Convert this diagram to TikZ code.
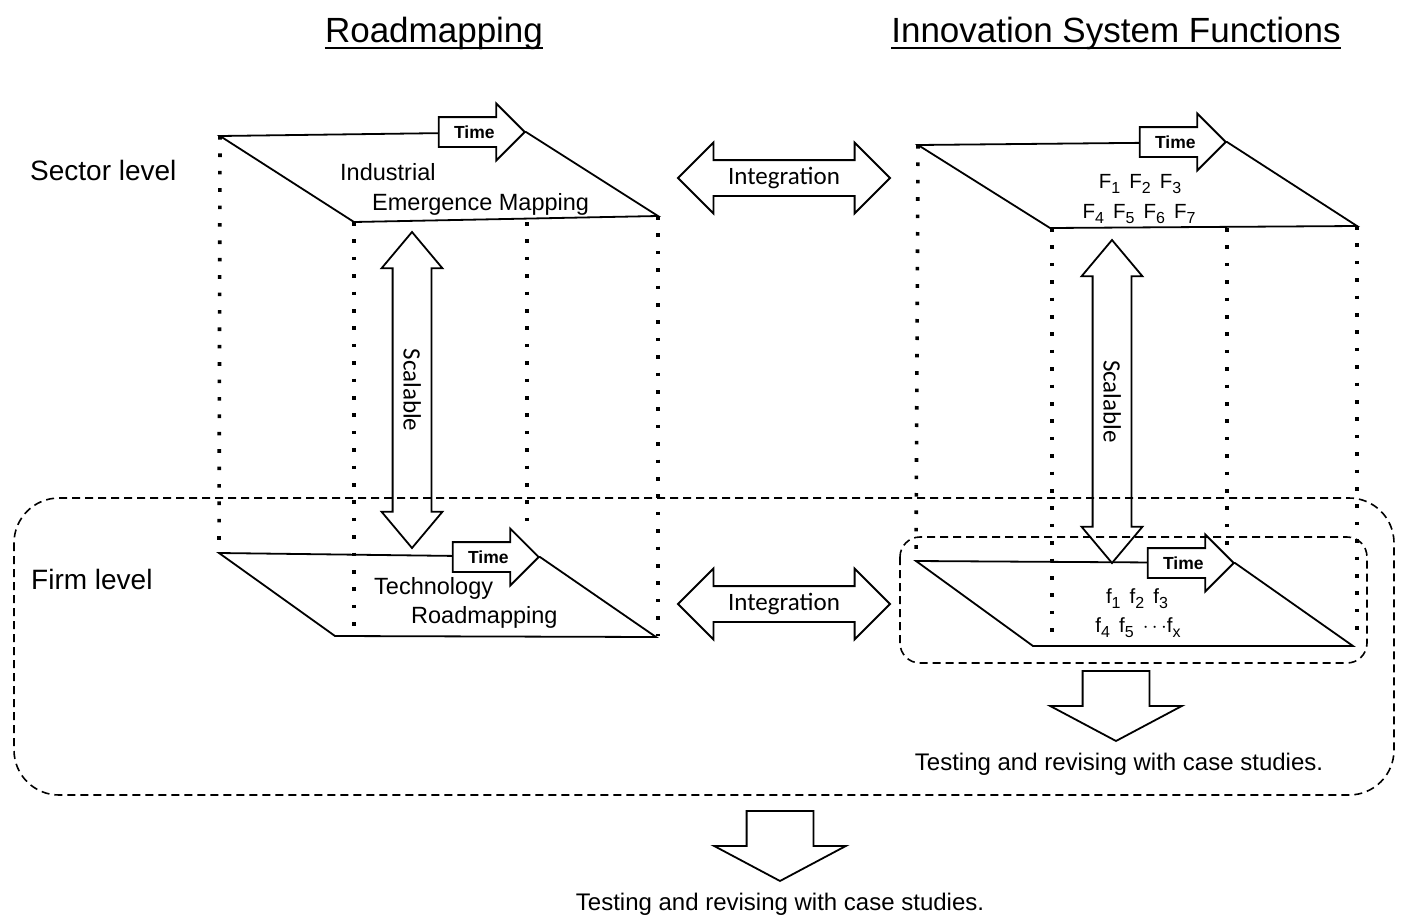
\documentclass[tikz,border=0pt]{standalone}
\usepackage{fontspec}
\setmainfont{Liberation Sans}
\newfontfamily\calfont{Carlito}
\usetikzlibrary{shapes.arrows,calc}

\tikzset{
  plane/.style={draw,line width=1.8pt,line join=miter},
  dotline/.style={line width=3.6pt,dash pattern=on 3.6pt off 13.8pt},
  boundary/.style={line width=1.6pt,dash pattern=on 8pt off 5pt},
  timearrow/.style={single arrow,draw,fill=white,line width=1.8pt,minimum height=86pt,
    text height=12.5pt,text depth=0pt,inner ysep=7.75pt,inner xsep=3pt,
    single arrow head extend=13.5pt,anchor=tip,font=\bfseries\fontsize{17.5}{17.5}\selectfont},
  integarrow/.style={double arrow,draw,fill=white,line width=1.8pt,minimum height=212pt,
    text height=17pt,text depth=5pt,inner ysep=6pt,inner xsep=2pt,
    double arrow head extend=17.5pt,font=\calfont\fontsize{25}{25}\selectfont},
  scalarrow/.style={double arrow,draw,fill=white,line width=1.8pt,rotate=-90,
    text height=17pt,text depth=0pt,inner ysep=10pt,inner xsep=2pt,
    double arrow head extend=11pt,double arrow tip angle=80,font=\calfont\fontsize{25}{25}\selectfont},
  downarrow/.style={single arrow,draw,fill=white,line width=1.8pt,rotate=-90,minimum height=70pt,
    text height=0pt,text depth=0pt,inner ysep=32.5pt,inner xsep=0pt,
    single arrow head extend=32.5pt,single arrow tip angle=124,anchor=tip},
  title/.style={inner sep=0pt,anchor=base,font=\fontsize{35}{35}\selectfont},
  level/.style={inner sep=0pt,anchor=base west,font=\fontsize{28}{28}\selectfont},
  planetext/.style={inner sep=0pt,anchor=base west,font=\fontsize{23.5}{23.5}\selectfont},
  fn/.style={inner sep=0pt,anchor=base,font=\fontsize{20.5}{20.5}\selectfont},
  result/.style={inner sep=0pt,anchor=base,font=\fontsize{24}{24}\selectfont}
}
\newcommand{\lowidx}[1]{\raisebox{-5pt}{\fontsize{16}{16}\selectfont #1}}

\begin{document}
\begin{tikzpicture}[x=1pt,y=-1pt]
\useasboundingbox (0,0) rectangle (1401,916);

% titles
\node[title] (rm-title) at (434,42) {Roadmapping};
\node[title] (isf-title) at (1116,42) {Innovation System Functions};
\draw[line width=2.2pt] ([yshift=-6pt]rm-title.base west) -- ([yshift=-6pt]rm-title.base east);
\draw[line width=2.2pt] ([yshift=-6pt]isf-title.base west) -- ([yshift=-6pt]isf-title.base east);

\node[level] (sector) at (30,180) {Sector level};
\node[level] (firm) at (31,589) {Firm level};

% plane corners
\coordinate (iem-nw) at (220,136);
\coordinate (iem-ne) at (526,132);
\coordinate (iem-se) at (658,216);
\coordinate (iem-sw) at (354,222);
\coordinate (trm-nw) at (219,553);
\coordinate (trm-ne) at (540,557);
\coordinate (trm-se) at (656,637);
\coordinate (trm-sw) at (335,636);
\coordinate (isf-nw) at (918,145);
\coordinate (isf-ne) at (1227,142);
\coordinate (isf-se) at (1357,226);
\coordinate (isf-sw) at (1050,228);
\coordinate (fsf-nw) at (916,561);
\coordinate (fsf-ne) at (1235,563);
\coordinate (fsf-se) at (1353,646);
\coordinate (fsf-sw) at (1033,646);

% dotted uprights
\draw[dotline] (iem-nw) -- (trm-nw);
\draw[dotline] (iem-sw) -- (354,636);
\draw[dotline] (527,222) -- (527,535);
\draw[dotline] (iem-se) -- (658,636);
\draw[dotline] (isf-nw) -- (fsf-nw);
\draw[dotline] (1052,228) -- (1052,640);
\draw[dotline] (1227,228) -- (1227,545);
\draw[dotline] (isf-se) -- (1357,640);

% planes
\draw[plane] (iem-nw) -- (iem-ne) -- (iem-se) -- (iem-sw) -- cycle;
\draw[plane] (trm-nw) -- (trm-ne) -- (trm-se) -- (trm-sw) -- cycle;
\draw[plane] (isf-nw) -- (isf-ne) -- (isf-se) -- (isf-sw) -- cycle;
\draw[plane] (fsf-nw) -- (fsf-ne) -- (fsf-se) -- (fsf-sw) -- cycle;

\node[timearrow] (time-iem) at (iem-ne) {Time};
\node[timearrow] (time-trm) at (trm-ne) {Time};
\node[timearrow] (time-isf) at (isf-ne) {Time};
\node[timearrow] (time-fsf) at (fsf-ne) {Time};

% plane texts
\node[planetext] (iem-l1) at (340,180) {Industrial};
\node[planetext] (iem-l2) at (372,210) {Emergence Mapping};
\node[planetext] (trm-l1) at (374,594) {Technology};
\node[planetext] (trm-l2) at (411,623) {Roadmapping};
\node[fn] (isf-l1) at (1140,188) {F\lowidx{1}\, F\lowidx{2}\, F\lowidx{3}};
\node[fn] (isf-l2) at (1139,218) {F\lowidx{4}\, F\lowidx{5}\, F\lowidx{6}\, F\lowidx{7}};
\node[fn] (fsf-l1) at (1137,603) {f\lowidx{1}\, f\lowidx{2}\, f\lowidx{3}};
\node[fn] (fsf-l2) at (1138,632) {f\lowidx{4}\, f\lowidx{5}\, $\cdots$f\lowidx{x}};

% block arrows
\node[integarrow] (integ-sector) at (784,178) {Integration};
\node[integarrow] (integ-firm) at (784,604) {Integration};
\node[scalarrow,minimum height=316pt] (scal-rm) at (412,390) {Scalable};
\node[scalarrow,minimum height=323pt] (scal-isf) at (1112,401.5) {Scalable};
\node[downarrow] (down-isf) at (1116,742) {};
\node[downarrow] (down-all) at (780,882) {};

\node[result] (test-isf) at (1119,770) {Testing and revising with case studies.};
\node[result] (test-all) at (780,910) {Testing and revising with case studies.};

% firm level boundaries
\draw[boundary,rounded corners=45pt] (14,498) rectangle (1394,795);
\draw[boundary,rounded corners=20pt] (900,537) rectangle (1367,663);
\end{tikzpicture}
\end{document}
